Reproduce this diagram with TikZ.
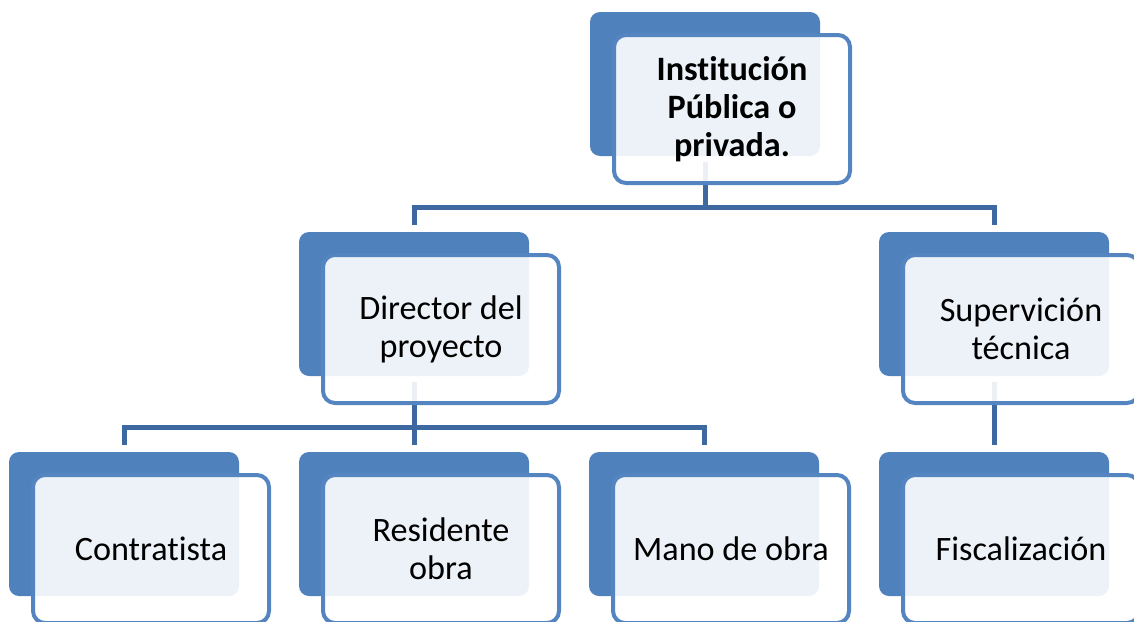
\documentclass[tikz,border=0pt]{standalone}
\usepackage{fontspec}
\setmainfont[Ligatures=NoCommon]{Carlito}
\definecolor{backblue}{RGB}{79,129,189}
\definecolor{lineblue}{RGB}{84,133,193}
\definecolor{connblue}{RGB}{62,104,160}
\pgfdeclarelayer{background}
\pgfsetlayers{background,main}
\tikzset{
  backbox/.style={fill=backblue, draw=none, rounded corners=10pt, minimum width=230pt, minimum height=144pt, anchor=north west, inner sep=0pt, outer sep=0pt},
  frontbox/.style={fill=white, fill opacity=0.9, text opacity=1, draw=lineblue, line width=4pt, rounded corners=12pt, minimum width=236pt, minimum height=148pt, anchor=north west, inner sep=0pt, outer sep=0pt, align=center, font=\fontsize{34.2}{38}\selectfont},
  conn/.style={draw=connblue, line width=5pt},
}
\begin{document}
\begin{tikzpicture}[x=1pt,y=-1pt]
\useasboundingbox (0,0) rectangle (1134,621);
\clip (0,0) rectangle (1134,621);
% level 0
\node[backbox] (tb) at (590,12) {};
\node[frontbox, font=\fontsize{34.2}{38}\selectfont\bfseries] (tf) at (614,35) {Institución\\Pública o\\privada.};
% level 1
\node[backbox] (db) at (299,232) {};
\node[frontbox] (df) at (323,255) {Director del\\proyecto};
\node[backbox] (sb) at (879,232) {};
\node[frontbox] (sf) at (903,255) {Supervición\\técnica};
% level 2
\node[backbox] (cb) at (9,452) {};
\node[frontbox] (cf) at (33,475) {Contratista};
\node[backbox] (rb) at (299,452) {};
\node[frontbox] (rf) at (323,475) {Residente\\obra};
\node[backbox] (mb) at (589,452) {};
\node[frontbox] (mf) at (613,475) {Mano de obra};
\node[backbox] (fb) at (879,452) {};
\node[frontbox] (ff) at (903,475) {Fiscalización};
\coordinate (busA) at (0,207);
\coordinate (busB) at (0,427);
\begin{pgfonlayer}{background}
\draw[conn, shorten <=6pt] (tb.south) -- (tb.south |- busA);
\draw[conn, shorten >=7pt] (tb.south |- busA) -| (db.north);
\draw[conn, shorten >=7pt] (tb.south |- busA) -| (sb.north);
\draw[conn, shorten <=6pt] (db.south) -- (db.south |- busB);
\draw[conn, shorten >=7pt] (db.south |- busB) -| (cb.north);
\draw[conn, shorten >=7pt] (db.south |- busB) -- (rb.north);
\draw[conn, shorten >=7pt] (db.south |- busB) -| (mb.north);
\draw[conn, shorten <=6pt, shorten >=7pt] (sb.south) -- (fb.north);
\end{pgfonlayer}
\end{tikzpicture}
\end{document}
